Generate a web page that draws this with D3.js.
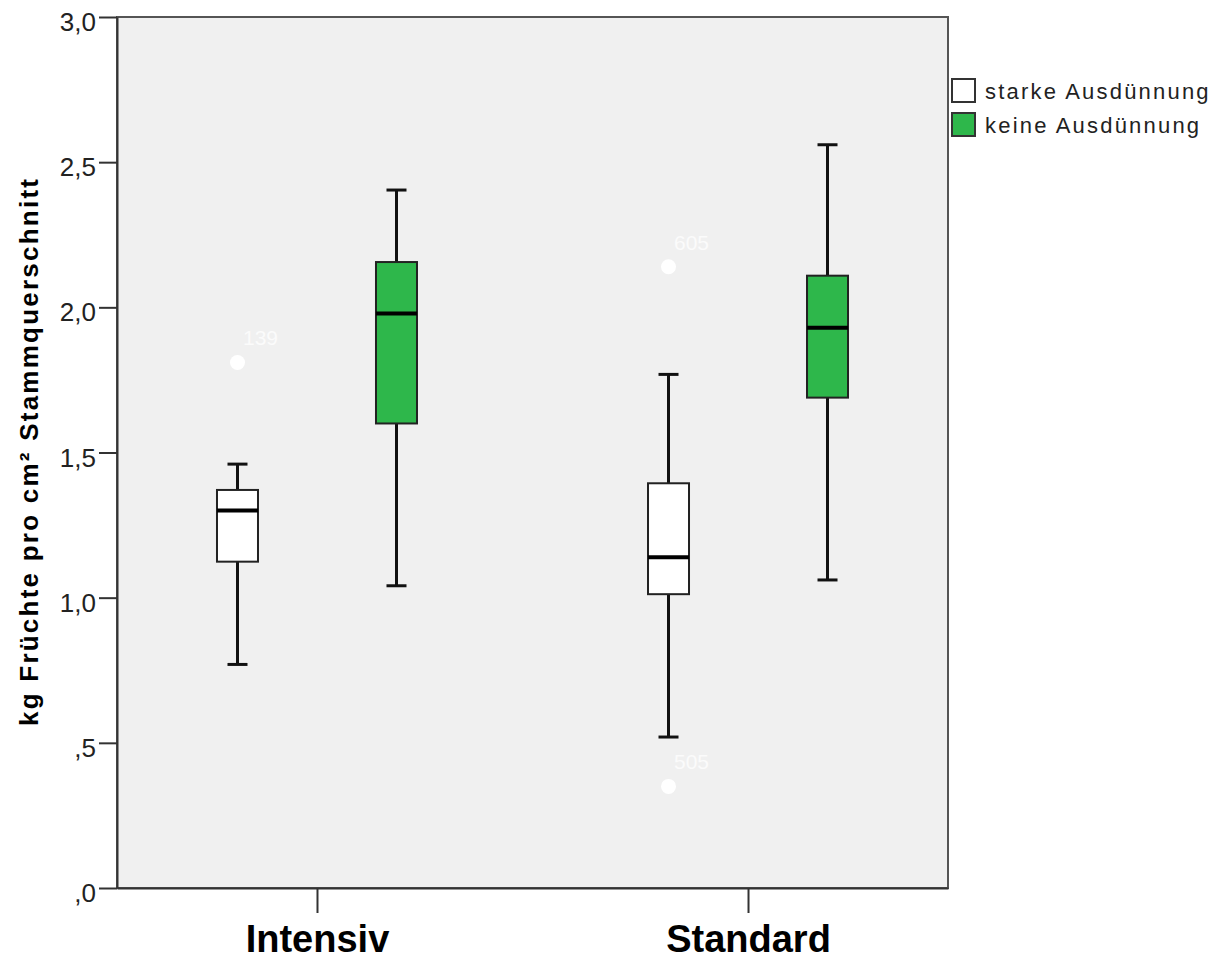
<!DOCTYPE html>
<html>
<head>
<meta charset="utf-8">
<script src="https://cdn.jsdelivr.net/npm/d3@7"></script>
<style>
  html, body { margin: 0; padding: 0; background: #ffffff; }
  svg { display: block; }
</style>
</head>
<body>
<svg id="chart" width="1226" height="960"></svg>
<script>
// ---- data ----
const categories = ["Intensiv", "Standard"];
const series = ["starke Ausdünnung", "keine Ausdünnung"];
const seriesColors = ["#ffffff", "#2eb74b"];
// five-number summaries per series, in category order
const starkeMin    = [0.77, 0.52];
const starkeQ1     = [1.124, 1.012];
const starkeMedian = [1.30, 1.139];
const starkeQ3     = [1.371, 1.394];
const starkeMax    = [1.46, 1.769];
const keineMin    = [1.041, 1.061];
const keineQ1     = [1.60, 1.689];
const keineMedian = [1.979, 1.93];
const keineQ3     = [2.156, 2.109];
const keineMax    = [2.404, 2.56];
// outliers
const outlierCategory = ["Intensiv", "Standard", "Standard"];
const outlierSeries   = ["starke Ausdünnung", "starke Ausdünnung", "starke Ausdünnung"];
const outlierValue    = [1.81, 2.14, 0.35];
const outlierLabel    = ["139", "605", "505"];
const yTicks = [0, 0.5, 1.0, 1.5, 2.0, 2.5, 3.0];
const yTitle = "kg Früchte pro cm² Stammquerschnitt";

// ---- build table ----
const boxes = [];
categories.forEach((c, i) => {
  boxes.push({cat: c, ser: series[0], min: starkeMin[i], q1: starkeQ1[i], med: starkeMedian[i], q3: starkeQ3[i], max: starkeMax[i]});
  boxes.push({cat: c, ser: series[1], min: keineMin[i], q1: keineQ1[i], med: keineMedian[i], q3: keineQ3[i], max: keineMax[i]});
});
const outliers = outlierValue.map((v, i) => ({cat: outlierCategory[i], ser: outlierSeries[i], v, label: outlierLabel[i]}));

// ---- layout ----
const L = 117, R = 948, T = 17, B = 888;
const svg = d3.select("#chart");

const y = d3.scaleLinear().domain([0, 3]).range([B, T]);
const x = d3.scalePoint().domain(categories).range([L, R]).padding(0.464);
const xs = d3.scalePoint().domain(series).range([-79.5, 79.5]);
const color = d3.scaleOrdinal().domain(series).range(seriesColors);
const boxW = 41, capW = 20;

const loc = d3.formatLocale({decimal: ",", thousands: ".", grouping: [3], currency: ["", "€"]});
const fmt = v => loc.format(".1f")(v).replace(/^0/, "");

// plot background + frame
svg.append("rect").attr("x", L).attr("y", T).attr("width", R - L).attr("height", B - T)
  .attr("fill", "#f0f0f0").attr("stroke", "#555").attr("stroke-width", 2);

// y axis
const yAxis = d3.axisLeft(y).tickValues(yTicks).tickFormat(fmt).tickSize(18).tickSizeOuter(0).tickPadding(3);
const gy = svg.append("g").attr("transform", `translate(${L},0)`).call(yAxis);
gy.select(".domain").attr("stroke", "#333").attr("stroke-width", 2);
gy.selectAll(".tick line").attr("stroke", "#333").attr("stroke-width", 2);
gy.selectAll(".tick text").attr("font-family", "'Liberation Sans', Arial, sans-serif")
  .attr("font-size", 26).attr("fill", "#222").attr("dy", "0.52em");

// x axis
const xAxis = d3.axisBottom(x).tickSize(25).tickSizeOuter(0).tickPadding(12);
const gx = svg.append("g").attr("transform", `translate(0,${B})`).call(xAxis);
gx.select(".domain").attr("stroke", "#333").attr("stroke-width", 2);
gx.selectAll(".tick line").attr("stroke", "#333").attr("stroke-width", 2);
gx.selectAll(".tick text").attr("font-family", "'Liberation Sans', Arial, sans-serif")
  .attr("font-size", 38).attr("font-weight", "bold").attr("fill", "#000").attr("dy", "0.72em");

// y title
svg.append("text")
  .attr("transform", `translate(38,${(T + B) / 2}) rotate(-90)`)
  .attr("text-anchor", "middle")
  .attr("font-family", "'Liberation Sans', Arial, sans-serif")
  .attr("font-size", 26).attr("font-weight", "bold").attr("fill", "#000")
  .attr("textLength", 547).attr("lengthAdjust", "spacing")
  .text(yTitle);

// boxes
const g = svg.append("g");
const bx = d => x(d.cat) + xs(d.ser);
const bg = g.selectAll("g.box").data(boxes).join("g").attr("class", "box");
bg.append("line").attr("x1", bx).attr("x2", bx).attr("y1", d => y(d.max)).attr("y2", d => y(d.q3))
  .attr("stroke", "#111").attr("stroke-width", 3);
bg.append("line").attr("x1", bx).attr("x2", bx).attr("y1", d => y(d.q1)).attr("y2", d => y(d.min))
  .attr("stroke", "#111").attr("stroke-width", 3);
bg.append("line").attr("x1", d => bx(d) - capW / 2).attr("x2", d => bx(d) + capW / 2)
  .attr("y1", d => y(d.max)).attr("y2", d => y(d.max)).attr("stroke", "#111").attr("stroke-width", 3);
bg.append("line").attr("x1", d => bx(d) - capW / 2).attr("x2", d => bx(d) + capW / 2)
  .attr("y1", d => y(d.min)).attr("y2", d => y(d.min)).attr("stroke", "#111").attr("stroke-width", 3);
bg.append("rect").attr("x", d => bx(d) - boxW / 2).attr("width", boxW)
  .attr("y", d => y(d.q3)).attr("height", d => y(d.q1) - y(d.q3))
  .attr("fill", d => color(d.ser)).attr("stroke", "#222").attr("stroke-width", 2);
bg.append("line").attr("x1", d => bx(d) - boxW / 2).attr("x2", d => bx(d) + boxW / 2)
  .attr("y1", d => y(d.med)).attr("y2", d => y(d.med)).attr("stroke", "#000").attr("stroke-width", 4);

// outliers
const og = g.selectAll("g.out").data(outliers).join("g").attr("class", "out");
og.append("circle").attr("cx", bx).attr("cy", d => y(d.v)).attr("r", 7.5).attr("fill", "#ffffff");
og.append("text").attr("x", d => bx(d) + 5.5).attr("y", d => y(d.v) - 17)
  .attr("font-family", "'Liberation Sans', Arial, sans-serif").attr("font-size", 21)
  .attr("fill", "#fbfbfb").text(d => d.label);

// legend
const lg = svg.append("g").selectAll("g").data(series).join("g")
  .attr("transform", (d, i) => `translate(952,${79 + i * 34})`);
lg.append("rect").attr("width", 23).attr("height", 23)
  .attr("fill", d => color(d)).attr("stroke", "#333").attr("stroke-width", 2);
lg.append("text").attr("x", 33).attr("y", 20)
  .attr("font-family", "'Liberation Sans', Arial, sans-serif").attr("font-size", 22)
  .attr("letter-spacing", 2.2).attr("fill", "#222").text(d => d);
</script>
</body>
</html>
